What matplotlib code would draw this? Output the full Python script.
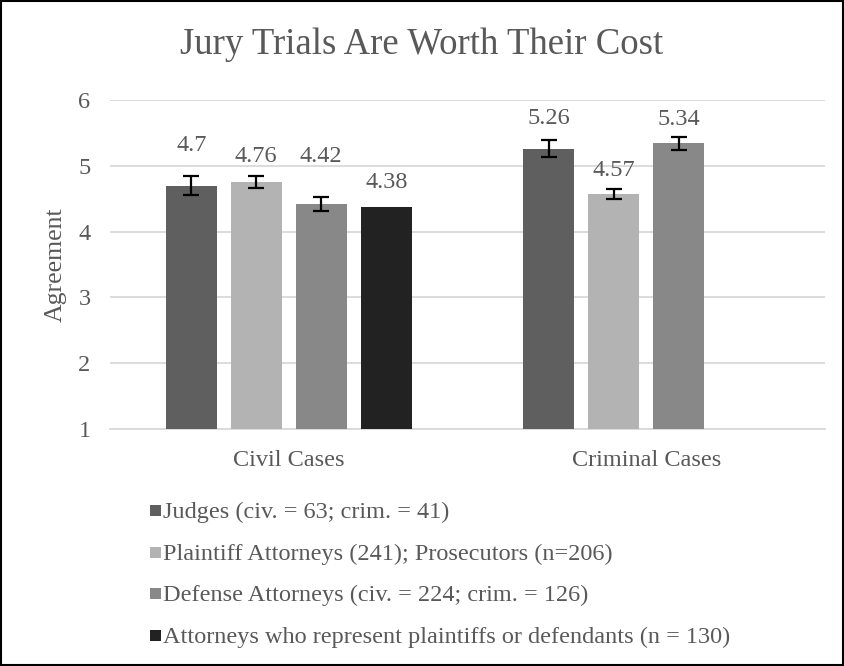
import matplotlib
matplotlib.use("Agg")
import matplotlib.pyplot as plt
import numpy as np
from matplotlib.patches import Rectangle

plt.rcParams['font.family'] = ['Liberation Serif', 'DejaVu Serif']

categories = ["Civil Cases", "Criminal Cases"]
series_names = [
    "Judges (civ. = 63; crim. = 41)",
    "Plaintiff Attorneys (241); Prosecutors (n=206)",
    "Defense Attorneys (civ. = 224; crim. = 126)",
    "Attorneys who represent plaintiffs or defendants (n = 130)",
]
judges = [4.70, 5.26]
plaintiff_pros = [4.76, 4.57]
defense = [4.42, 5.34]
attorneys = [4.38, np.nan]
judges_err = [0.14, 0.13]
plaintiff_pros_err = [0.09, 0.08]
defense_err = [0.10, 0.10]
attorneys_err = [np.nan, np.nan]
yticks = [1, 2, 3, 4, 5, 6]

values = [judges, plaintiff_pros, defense, attorneys]
errors = [judges_err, plaintiff_pros_err, defense_err, attorneys_err]
colors = ["#5f5f5f", "#b3b3b3", "#888888", "#222222"]
# label offsets in points above bar top (styling)
label_offsets = [[29, 22], [18, 17], [34, 17], [17, 0]]

W, H = 844, 666
fig = plt.figure(figsize=(W / 100, H / 100), dpi=100)
ax = fig.add_axes([110 / W, 1 - 429 / H, 715 / W, 329 / H])

x = np.arange(len(categories))
slot = 65 / 357.5
width = 51 / 357.5
text_color = "#595959"
fs = 17.5

for i, (vals, errs, c) in enumerate(zip(values, errors, colors)):
    pos = x + (i - 1.5) * slot
    ax.bar(pos, [v - 1 for v in vals], width, bottom=1, color=c, zorder=3)
    ax.errorbar(pos, vals, yerr=errs, fmt='none', ecolor='black', elinewidth=1.6,
                capsize=5.5, capthick=1.6, zorder=4)
    for j, v in enumerate(vals):
        if np.isnan(v):
            continue
        ax.annotate(f"{v:g}", (pos[j], v), xytext=(0, label_offsets[i][j]),
                    textcoords="offset points", ha="center", va="center",
                    fontsize=fs, color=text_color)

ax.set_xlim(-0.5, 1.5)
ax.set_ylim(1, 6)
ax.set_yticks(yticks)
ax.set_xticks(x)
ax.set_xticklabels(categories)
ax.tick_params(axis='both', length=0, labelsize=fs, colors=text_color)
ax.tick_params(axis='x', pad=15)
ax.tick_params(axis='y', pad=14)
ax.yaxis.grid(True, color="#d9d9d9", linewidth=1.3, zorder=0)
for s in ["top", "right", "left"]:
    ax.spines[s].set_visible(False)
ax.spines["bottom"].set_color("#d9d9d9")
ax.spines["bottom"].set_linewidth(1.3)

fig.text(56 / W, 1 - 265 / H, "Agreement", rotation=90, ha="center", va="center",
         fontsize=18.5, color=text_color)

fig.text(0.5, 1 - 45 / H, "Jury Trials Are Worth Their Cost", ha="center", va="center",
         fontsize=26.5, color=text_color)

# legend drawn manually
leg_y = [510, 552, 593, 635]
for name, c, yy in zip(series_names, colors, leg_y):
    fig.add_artist(Rectangle((150 / W, 1 - (yy + 5.5) / H), 11 / W, 11 / H,
                             transform=fig.transFigure, facecolor=c, edgecolor='none'))
    fig.text(163 / W, 1 - yy / H, name, ha="left", va="center_baseline",
             fontsize=fs, color=text_color)

fig.add_artist(Rectangle((0.001, 0.001), 0.998, 0.998, transform=fig.transFigure,
                         fill=False, edgecolor="black", linewidth=1.5))

fig.savefig("out.png", dpi=100)
